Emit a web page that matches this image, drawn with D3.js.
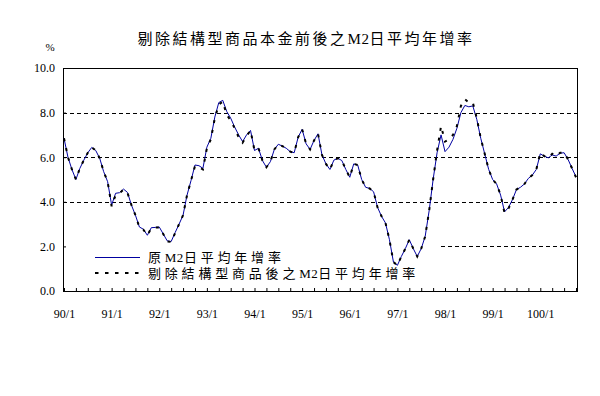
<!DOCTYPE html>
<html>
<head>
<meta charset="utf-8">
<script src="https://cdnjs.cloudflare.com/ajax/libs/d3/7.8.5/d3.min.js"></script>
<style>
  body { margin: 0; background: #fff; }
  text { font-family: "Liberation Serif", "Noto Sans CJK TC", serif; fill: #000; }
</style>
</head>
<body>
<div id="chart"></div>
<script>
// 原M2日平均年增率 (monthly, 90/1 .. 100/10)
var original = [
  6.85, 6.0, 5.45, 5.0, 5.5, 5.87, 6.2, 6.44, 6.3, 5.95, 5.35, 4.9,
  3.85, 4.38, 4.41, 4.57, 4.42, 3.85, 3.4, 2.87, 2.77, 2.5, 2.84, 2.85,
  2.87, 2.56, 2.25, 2.22, 2.62, 3.0, 3.4, 4.3, 4.95, 5.65, 5.62, 5.5,
  6.45, 6.85, 7.8, 8.45, 8.55, 8.05, 7.75, 7.35, 7.0, 6.7, 7.0, 7.2,
  6.3, 6.4, 5.85, 5.55, 5.8, 6.35, 6.58, 6.5, 6.4, 6.25, 6.2, 6.9,
  7.25, 6.6, 6.35, 6.75, 7.05, 6.1, 5.7, 5.45, 5.87, 5.95, 5.85, 5.45,
  5.1, 5.7, 5.65, 5.0, 4.65, 4.6, 4.45, 3.75, 3.35, 3.05, 2.3, 1.3,
  1.15, 1.55, 1.9, 2.3, 1.9, 1.55, 1.9, 2.45, 3.6, 5.0, 6.2, 7.0,
  6.25, 6.45, 6.8, 7.3, 8.0, 8.32, 8.26, 8.3, 7.7, 6.85, 6.15, 5.45,
  5.0, 4.8, 4.3, 3.55, 3.75, 4.1, 4.55, 4.65, 4.8, 5.05, 5.2, 5.45,
  6.15, 6.05, 5.97, 6.1, 6.05, 6.18, 6.2, 5.9, 5.5, 5.12
];
// 剔除結構型商品後之M2日平均年增率
var adjusted = [
  6.85, 6.0, 5.45, 5.0, 5.5, 5.87, 6.2, 6.44, 6.3, 5.95, 5.35, 4.9,
  3.8, 4.3, 4.38, 4.55, 4.4, 3.85, 3.4, 2.85, 2.75, 2.5, 2.82, 2.85,
  2.85, 2.56, 2.22, 2.2, 2.6, 3.0, 3.4, 4.3, 4.95, 5.6, 5.55, 5.45,
  6.4, 6.8, 7.75, 8.35, 8.5, 7.9, 7.65, 7.3, 6.9, 6.65, 6.95, 7.2,
  6.3, 6.4, 5.85, 5.55, 5.8, 6.35, 6.58, 6.5, 6.4, 6.25, 6.2, 6.9,
  7.25, 6.6, 6.35, 6.75, 7.05, 6.1, 5.7, 5.45, 5.87, 5.95, 5.85, 5.45,
  5.1, 5.7, 5.65, 5.0, 4.65, 4.6, 4.45, 3.75, 3.35, 3.05, 2.3, 1.3,
  1.15, 1.55, 1.9, 2.3, 1.9, 1.55, 1.9, 2.45, 3.6, 5.0, 6.3, 7.4,
  6.7, 6.8, 7.0, 7.4, 8.3, 8.6, 8.45, 8.45, 7.75, 6.85, 6.15, 5.45,
  5.0, 4.8, 4.3, 3.5, 3.7, 4.1, 4.55, 4.65, 4.8, 5.05, 5.2, 5.45,
  6.2, 6.05, 5.97, 6.15, 6.05, 6.2, 6.2, 5.9, 5.5, 5.1
];
var yTicks = [0, 2, 4, 6, 8, 10];
var yearLabels = ["90/1", "91/1", "92/1", "93/1", "94/1", "95/1", "96/1", "97/1", "98/1", "99/1", "100/1"];

var title = "剔除結構型商品本金前後之M2日平均年增率";
var legendNames = ["原M2日平均年增率", "剔除結構型商品後之M2日平均年增率"];

// month categories, 90/1 .. 100/10
var months = [];
yearLabels.forEach(function(yl){
  var yr = yl.split("/")[0];
  for (var m = 1; m <= 12; m++) months.push(yr + "/" + m);
});
months = months.slice(0, original.length);

var chartW = 600, chartH = 396;
var plotL = 63, plotR = 577, plotT = 68, plotB = 291;

var svg = d3.select("#chart")
  .append("svg")
  .attr("width", chartW)
  .attr("height", chartH);

var x = d3.scalePoint()
  .domain(months)
  .range([plotL, plotR])
  .padding(0.25);

var y = d3.scaleLinear()
  .domain([0, 10])
  .range([plotB, plotT]);

// writes CJK text with wide spacing but keeps "M2" tight
function spacedText(sel, str, spacing){
  str.split(/(M2)/).forEach(function(part){
    if (!part) return;
    sel.append("tspan")
      .attr("letter-spacing", part === "M2" ? 0.5 : spacing)
      .text(part);
  });
}

// title
var titleText = svg.append("text")
  .attr("x", 306)
  .attr("y", 44)
  .attr("text-anchor", "middle")
  .attr("font-size", 15);
spacedText(titleText, title, 2.5);

svg.append("text")
  .attr("x", 50)
  .attr("y", 51)
  .attr("text-anchor", "middle")
  .attr("font-size", 11)
  .text("%");

// gridlines
svg.append("g")
  .selectAll("line")
  .data(yTicks.filter(function(d){ return d > 0 && d < 10; }))
  .enter().append("line")
  .attr("x1", plotL)
  .attr("x2", plotR)
  .attr("y1", function(d){ return Math.round(y(d)) + 0.5; })
  .attr("y2", function(d){ return Math.round(y(d)) + 0.5; })
  .attr("stroke", "#000")
  .attr("stroke-width", 1)
  .attr("stroke-dasharray", "4,3");

// legend background (sits over the gridlines, under the series)
var legend = svg.append("g");
legend.append("rect")
  .attr("x", plotL + 1)
  .attr("y", 244)
  .attr("width", 441 - plotL - 1)
  .attr("height", 45)
  .attr("fill", "#fff");

// y axis
var yAxis = d3.axisLeft(y)
  .tickValues(yTicks)
  .tickFormat(d3.format(".1f"))
  .tickSizeInner(-3)
  .tickSizeOuter(0)
  .tickPadding(8);

var yg = svg.append("g")
  .attr("transform", "translate(" + plotL + ",0)")
  .call(yAxis);
yg.select(".domain").remove();
yg.selectAll("text").attr("font-size", 12);

// x axis: quarterly ticks inward, year labels
var xAxis = d3.axisBottom(x)
  .tickValues(months.filter(function(d, i){ return i % 3 === 0; }))
  .tickFormat(function(d){ return d.split("/")[1] === "1" ? d : ""; })
  .tickSizeInner(-3)
  .tickSizeOuter(0)
  .tickPadding(18);

var xg = svg.append("g")
  .attr("transform", "translate(0," + plotB + ")")
  .call(xAxis);
xg.select(".domain").remove();
xg.selectAll("text").attr("font-size", 12);

// plot frame
svg.append("rect")
  .attr("x", plotL + 0.5)
  .attr("y", plotT + 0.5)
  .attr("width", plotR - plotL)
  .attr("height", plotB - plotT)
  .attr("fill", "none")
  .attr("stroke", "#000")
  .attr("stroke-width", 1);

// series
var line = d3.line()
  .x(function(d, i){ return x(months[i]); })
  .y(function(d){ return y(d); });

svg.append("path")
  .datum(original)
  .attr("d", line)
  .attr("fill", "none")
  .attr("stroke", "#0000A0")
  .attr("stroke-width", 1);

svg.append("path")
  .datum(adjusted)
  .attr("d", line)
  .attr("fill", "none")
  .attr("stroke", "#000")
  .attr("stroke-width", 2)
  .attr("stroke-dasharray", "3,7");

// legend entries
legend.append("line")
  .attr("x1", 95).attr("x2", 140)
  .attr("y1", 257.5).attr("y2", 257.5)
  .attr("stroke", "#0000A0")
  .attr("stroke-width", 1);

legend.append("line")
  .attr("x1", 95).attr("x2", 140)
  .attr("y1", 273).attr("y2", 273)
  .attr("stroke", "#000")
  .attr("stroke-width", 2)
  .attr("stroke-dasharray", "3.5,6.5");

legend.selectAll("text.entry")
  .data(legendNames)
  .enter().append("text")
  .attr("class", "entry")
  .attr("x", 148)
  .attr("y", function(d, i){ return 262 + i * 16; })
  .attr("font-size", 13)
  .each(function(d){ spacedText(d3.select(this), d, 3.8); });
</script>
</body>
</html>
